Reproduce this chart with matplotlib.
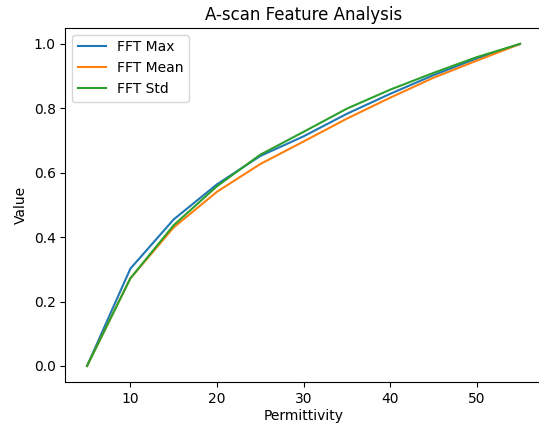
import matplotlib
matplotlib.use("Agg")
import matplotlib.pyplot as plt

permittivity = [5, 10, 15, 20, 25, 30, 35, 40, 45, 50, 55]
fft_max = [0.0, 0.302, 0.455, 0.564, 0.652, 0.713, 0.783, 0.845, 0.903, 0.955, 1.0]
fft_mean = [0.0, 0.272, 0.430, 0.541, 0.627, 0.697, 0.768, 0.833, 0.895, 0.948, 1.0]
fft_std = [0.0, 0.272, 0.437, 0.558, 0.656, 0.727, 0.799, 0.858, 0.910, 0.959, 1.0]

fig, ax = plt.subplots(figsize=(5.39, 4.25), dpi=100)
ax.plot(permittivity, fft_max, label="FFT Max")
ax.plot(permittivity, fft_mean, label="FFT Mean")
ax.plot(permittivity, fft_std, label="FFT Std")
ax.set_title("A-scan Feature Analysis")
ax.set_xlabel("Permittivity", labelpad=2)
ax.set_ylabel("Value")
ax.legend(loc="upper left")
# axes run slightly past the right edge, as in the reference
fig.subplots_adjust(left=0.1213, right=1.005, bottom=0.101, top=0.9345)
fig.savefig("out.png")
